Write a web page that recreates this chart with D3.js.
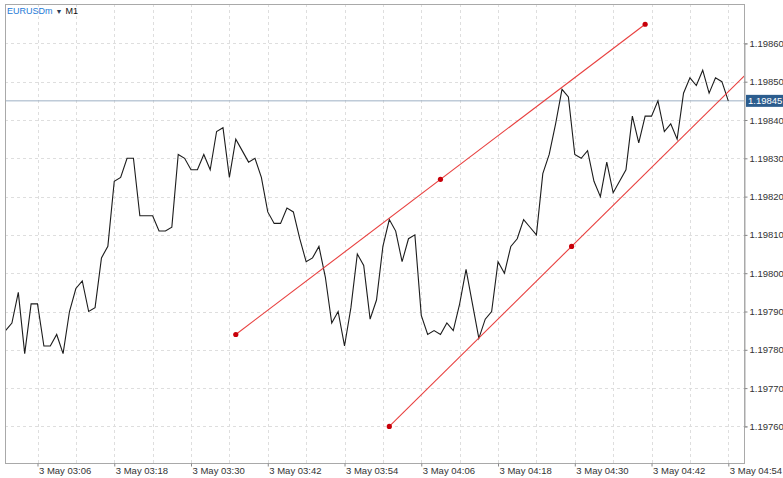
<!DOCTYPE html>
<html><head><meta charset="utf-8">
<script src="https://cdn.jsdelivr.net/npm/d3@7"></script>
<style>
body{margin:0;background:#fff;}
text{font-family:"Liberation Sans",Arial,Helvetica,sans-serif;}
</style>
</head><body>
<svg id="chart" width="783" height="478"></svg>
<script>
// ---------- data ----------
const symbol = "EURUSDm";
const timeframe = "M1";
const dateLabel = "3 May";
const firstBarTime = "03:01";          // one close per minute from here
const closes = [
  1.19785,1.19787,1.19795,1.19779,1.19792,1.19792,1.19781,1.19781,1.19784,1.19779,
  1.19790,1.19796,1.19798,1.19790,1.19791,1.19804,1.19807,1.19824,1.19825,1.19830,
  1.19830,1.19815,1.19815,1.19815,1.19811,1.19811,1.19812,1.19831,1.19830,1.19827,
  1.19827,1.19831,1.19827,1.19837,1.19838,1.19825,1.19835,1.19832,1.19829,1.19830,
  1.19825,1.19816,1.19813,1.19813,1.19817,1.19816,1.19809,1.19803,1.19804,1.19807,
  1.19799,1.19787,1.19790,1.19781,1.19791,1.19805,1.19802,1.19788,1.19793,1.19807,
  1.19814,1.19811,1.19803,1.19809,1.19810,1.19789,1.19784,1.19785,1.19784,1.19787,
  1.19785,1.19792,1.19801,1.19792,1.19783,1.19788,1.19790,1.19803,1.19800,1.19807,
  1.19809,1.19814,1.19812,1.19810,1.19826,1.19831,1.19839,1.19848,1.19846,1.19831,
  1.19830,1.19832,1.19824,1.19820,1.19829,1.19821,1.19824,1.19827,1.19841,1.19834,
  1.19841,1.19841,1.19845,1.19837,1.19839,1.19835,1.19847,1.19851,1.19849,1.19853,
  1.19847,1.19851,1.19850,1.19845
];
const priceTicks = [1.19760,1.19770,1.19780,1.19790,1.19800,1.19810,1.19820,1.19830,1.19840,1.19850,1.19860];
const timeLabelTicks = ["03:06","03:18","03:30","03:42","03:54","04:06","04:18","04:30","04:42","04:54"];
const timeGridTicks = ["03:06","03:12","03:18","03:24","03:30","03:36","03:42","03:48","03:54","04:00",
  "04:06","04:12","04:18","04:24","04:30","04:36","04:42","04:48","04:54"];
const currentPrice = 1.19845;
const upperTrend = [["03:37",1.19784],["04:41",1.19865]];
const lowerTrend = [["04:01",1.19760],["04:58",1.19854]];

// ---------- helpers ----------
const hm = s => { const [h,m] = s.split(":").map(Number); return new Date(2021,4,3,h,m); };
const t0 = hm(firstBarTime);
const series = closes.map((v,i) => ({t: d3.timeMinute.offset(t0,i), v}));

const svg = d3.select("#chart");
const L = 5, R = 745, T = 4, B = 464;

const x = d3.scaleTime().domain([hm("03:06"), hm("04:54")]).range([37.5, 728.3]);
const y = d3.scaleLinear().domain([1.19760, 1.19860]).range([426.4, 43.4]);

svg.append("rect").attr("width",783).attr("height",478).attr("fill","#fff");
svg.append("defs").append("clipPath").attr("id","plot")
  .append("rect").attr("x",L).attr("y",T).attr("width",R-L).attr("height",B-T);

// grid
const grid = svg.append("g").attr("stroke","#dedede").attr("stroke-dasharray","3,3").attr("stroke-width",1);
grid.selectAll("line.h").data(priceTicks).join("line")
  .attr("x1",L).attr("x2",R)
  .attr("y1",d=>Math.round(y(d))+0.5).attr("y2",d=>Math.round(y(d))+0.5);
grid.selectAll("line.v").data(timeGridTicks).join("line")
  .attr("y1",T).attr("y2",B)
  .attr("x1",d=>Math.round(x(hm(d)))+0.5).attr("x2",d=>Math.round(x(hm(d)))+0.5);

const plot = svg.append("g").attr("clip-path","url(#plot)");

// current price line
plot.append("line").attr("x1",L).attr("x2",R)
  .attr("y1",y(currentPrice)).attr("y2",y(currentPrice))
  .attr("stroke","#9db0c4").attr("stroke-width",1);

// price line
plot.append("path").datum(series)
  .attr("fill","none").attr("stroke","#1c1c1c").attr("stroke-width",1.1)
  .attr("d", d3.line().x(d=>x(d.t)).y(d=>y(d.v)));

// trend lines
function trend(pts, showEnd){
  const p = pts.map(([t,v]) => [x(hm(t)), y(v)]);
  plot.append("line").attr("x1",p[0][0]).attr("y1",p[0][1]).attr("x2",p[1][0]).attr("y2",p[1][1])
    .attr("stroke","#e8403f").attr("stroke-width",1.1);
  const mid = [(p[0][0]+p[1][0])/2, (p[0][1]+p[1][1])/2];
  const dots = [p[0], mid, p[1]];
  plot.selectAll(null).data(dots).join("circle")
    .attr("cx",d=>d[0]).attr("cy",d=>d[1]).attr("r",2.6).attr("fill","#c8000a");
}
trend(upperTrend);
trend(lowerTrend);

// frame
svg.append("rect").attr("x",L+0.5).attr("y",T+0.5).attr("width",R-L-1).attr("height",B-T-1)
  .attr("fill","none").attr("stroke","#a9a9a9").attr("stroke-width",1);

// right axis
const yAxis = svg.append("g").attr("transform",`translate(${R-0.5},0)`)
  .call(d3.axisRight(y).tickValues(priceTicks).tickFormat(d3.format(".5f")).tickSize(3).tickPadding(2));
yAxis.select(".domain").attr("stroke","#a9a9a9");
yAxis.selectAll(".tick line").attr("stroke","#888");
yAxis.selectAll(".tick text").attr("font-size","9.5px").attr("fill","#333")
  .style("font-family","'Liberation Sans',Arial,sans-serif");

// bottom axis
const xAxis = svg.append("g").attr("transform",`translate(0,${B-0.5})`)
  .call(d3.axisBottom(x).tickValues(timeLabelTicks.map(hm))
    .tickFormat(d => dateLabel + " " + d3.timeFormat("%H:%M")(d)).tickSize(3));
xAxis.select(".domain").remove();
xAxis.selectAll(".tick line").attr("stroke","#888");
xAxis.selectAll(".tick text").attr("text-anchor","start").attr("x",1).attr("y",10.5).attr("dy",0)
  .attr("font-size","9.5px").attr("fill","#333")
  .style("font-family","'Liberation Sans',Arial,sans-serif");

// current price tag
const cy = y(currentPrice);
svg.append("rect").attr("x",R+1).attr("y",cy-6).attr("width",783-R-1).attr("height",12).attr("fill","#2c5d8e");
svg.append("text").attr("x",R+3).attr("y",cy+3.3).attr("fill","#fff").attr("font-size","9.5px")
  .text(d3.format(".5f")(currentPrice));

// title
const title = svg.append("text").attr("x",7).attr("y",14).attr("font-size","9px");
title.append("tspan").attr("fill","#1e7ad6").text(symbol);
title.append("tspan").attr("fill","#2a3a55").attr("font-size","7px").attr("dx",3).text("▼");
title.append("tspan").attr("fill","#111").attr("dx",3).text(timeframe);
</script>
</body></html>
